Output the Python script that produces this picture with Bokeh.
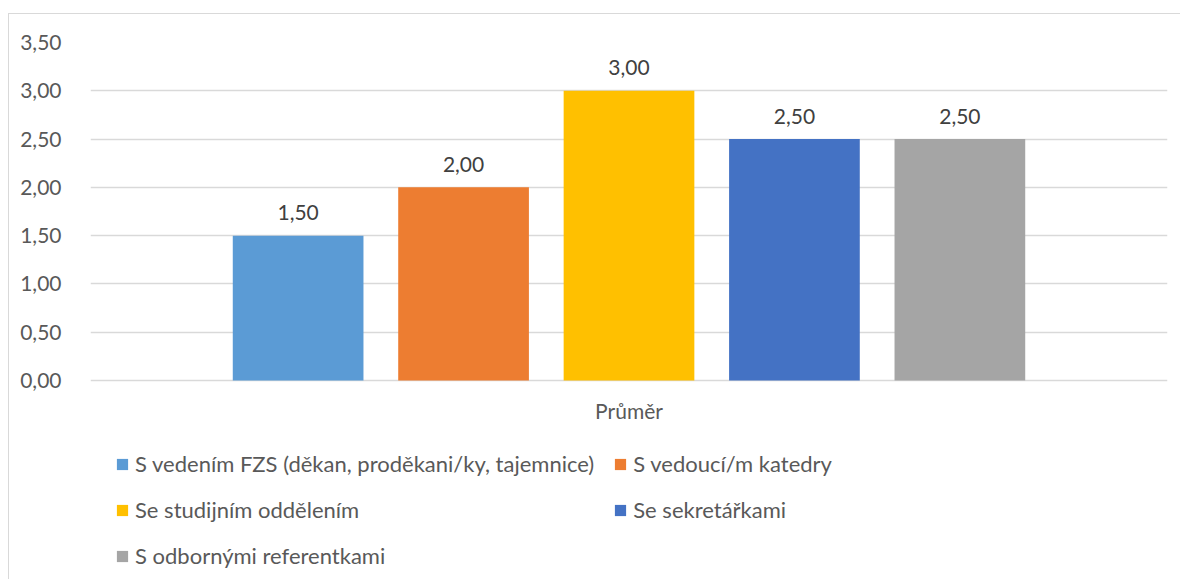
from bokeh.plotting import figure
from bokeh.models import (ColumnDataSource, Legend, LegendItem, FixedTicker,
                          CustomJSTickFormatter, Range1d)
from bokeh.core.properties import value
from bokeh.embed import file_html
from bokeh.resources import INLINE

category = "Průměr"
series = ["S vedením FZS (děkan, proděkani/ky, tajemnice)",
          "S vedoucí/m katedry",
          "Se studijním oddělením",
          "Se sekretářkami",
          "S odbornými referentkami"]
values = [1.5, 2.0, 3.0, 2.5, 2.5]
colors = ["#5B9BD5", "#ED7D31", "#FFC000", "#4472C4", "#A5A5A5"]
y_ticks = [0, 0.5, 1.0, 1.5, 2.0, 2.5, 3.0, 3.5]

FONT = "Lato"
FS = "21px"
W, H = 1172, 566

xs = list(range(1, len(values) + 1))
cat_x = sum(xs) / len(xs)
src = ColumnDataSource(dict(
    x=xs, top=values, color=colors, name=series,
    label=[f"{v:.2f}".replace(".", ",") for v in values]))

# frame extends below the value axis so the legend can live inside it
p = figure(width=W, height=H, output_backend="svg", toolbar_location=None,
           x_range=Range1d(-0.255, 6.255), y_range=Range1d(-2.071, 3.5),
           x_axis_location=None,
           min_border_left=81, min_border_right=14, min_border_top=28,
           min_border_bottom=0, outline_line_color=None)
p.styles = {"margin-left": "8px", "margin-top": "13px",
            "border-left": "1px solid #d9d9d9",
            "border-top": "1px solid #d9d9d9"}

renderers = []
for i in range(len(values)):
    r = p.vbar(x=xs[i], top=values[i], bottom=0, width=0.79,
               fill_color=colors[i], line_color=None)
    renderers.append(r)

p.text(x="x", y="top", text="label", source=src, text_align="center",
       text_baseline="alphabetic", y_offset=-23, text_color="#404040",
       text_font=value(FONT), text_font_size=FS)

# category label under the group
p.text(x=[cat_x], y=[0], text=[category], text_align="center",
       text_baseline="middle", y_offset=30, text_color="#595959",
       text_font=value(FONT), text_font_size=FS)

p.yaxis.ticker = FixedTicker(ticks=y_ticks)
p.yaxis.formatter = CustomJSTickFormatter(
    code="return tick.toFixed(2).replace('.', ',');")
p.yaxis.axis_line_color = None
p.yaxis.major_tick_line_color = None
p.yaxis.minor_tick_line_color = None
p.yaxis.major_label_text_color = "#595959"
p.yaxis.major_label_text_font = FONT
p.yaxis.major_label_text_font_size = FS
p.yaxis.major_label_standoff = 23

p.xgrid.grid_line_color = None
p.ygrid.grid_line_color = "#d9d9d9"
p.ygrid.grid_line_width = 1.5
p.ygrid.ticker = FixedTicker(ticks=y_ticks)

legend = Legend(items=[LegendItem(label=series[i], renderers=[renderers[i]])
                       for i in range(len(series))],
                orientation="horizontal", ncols=2, location=(25, 11),
                margin=0, padding=0, spacing=19, label_height=26,
                glyph_height=14, glyph_width=14, label_standoff=6,
                border_line_color=None, background_fill_alpha=0,
                label_text_font=FONT, label_text_font_size="22px",
                label_text_color="#595959")
p.add_layout(legend, "center")

open("out.html", "w").write(file_html(p, INLINE))
